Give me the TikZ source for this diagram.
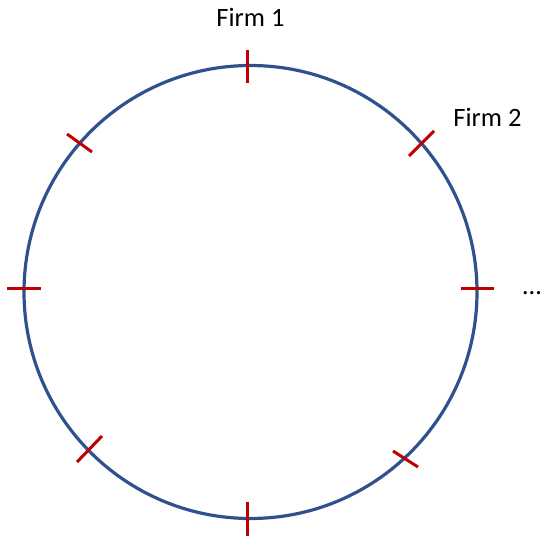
\documentclass[tikz,border=0pt]{standalone}
\usepackage{fontspec}
\setmainfont{Carlito}
\definecolor{ringblue}{HTML}{2F528F}
\definecolor{tickred}{HTML}{C00000}
\begin{document}
\begin{tikzpicture}[x=1pt,y=-1pt,
  ring/.style={draw=ringblue,line width=3.2pt},
  tickmark/.style={draw=tickred,line width=3pt},
  lbl/.style={font=\fontsize{26.5}{30}\selectfont,anchor=base,inner sep=0pt}]
\useasboundingbox (0,0) rectangle (540,535);
\coordinate (c) at (250.5,292);
\draw[ring] (c) circle[radius=226.5];
\foreach \xa/\ya/\xb/\yb in {247/50/247/83, 409/156/434/131, 461/288/494/288, 393/451/418/467,
  247/502/247/536, 77/462/102/436, 7/288/41/288, 67/134/92/152}{
  \draw[tickmark] (\xa,\ya) -- (\xb,\yb);
}
\node[lbl] (firm1) at (250.5,27) {Firm 1};
\node[lbl] (firm2) at (487.5,126) {Firm 2};
\node[lbl] (dots) at (532,294) {…};
\end{tikzpicture}
\end{document}
